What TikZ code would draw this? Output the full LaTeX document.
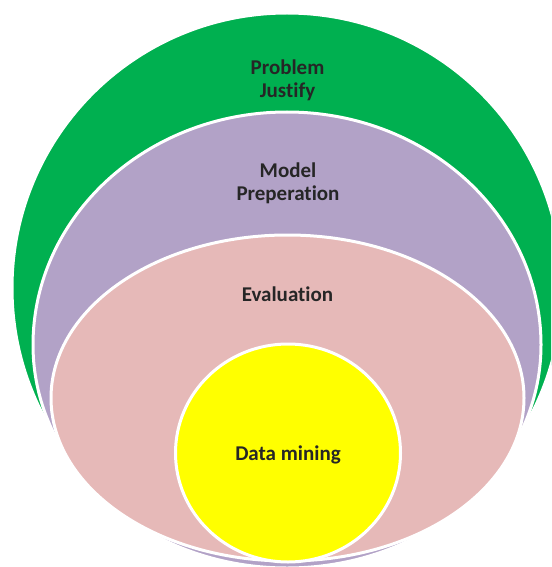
\documentclass[tikz,border=0pt]{standalone}
\usepackage{fontspec}
\setmainfont{Carlito}[Ligatures=NoCommon]
\usetikzlibrary{shapes.geometric}
\definecolor{layergreen}{HTML}{00B050}
\definecolor{layerpurple}{HTML}{B2A2C7}
\definecolor{layerpink}{HTML}{E6B9B8}
\definecolor{layeryellow}{HTML}{FFFF00}
\definecolor{labeltext}{HTML}{262626}
\tikzset{gr/.style={ellipse, inner sep=0pt, draw=white, line width=3pt, fill=layergreen},
        pu/.style={draw=white, line width=3pt, fill=layerpurple},
        pk/.style={ellipse, inner sep=0pt, draw=white, line width=3pt, fill=layerpink},
        yl/.style={ellipse, inner sep=0pt, draw=white, line width=3pt, fill=layeryellow},
        lb/.style={font=\bfseries\fontsize{21}{23}\selectfont, text=labeltext, align=center, anchor=base, inner sep=0pt}}

\begin{document}
\begin{tikzpicture}[x=1pt,y=-1pt]
    \useasboundingbox (0,0) rectangle (551,567);
    \clip (0,0) rectangle (551,567);

    % layers, back to front
    \node (problem) at (287,288) [gr, minimum width=550pt, minimum height=550pt] {};
    % the model layer is flatter below than above
    \draw[pu] (33,345) arc[start angle=180, end angle=360, x radius=254, y radius=233]
        arc[start angle=0, end angle=180, x radius=254, y radius=223] -- cycle;
    \node (evaluation) at (287.5,398) [pk, minimum width=473pt, minimum height=326pt] {};
    \node (mining) at (288,453) [yl, minimum width=225pt, minimum height=218pt] {};

    % labels
    \node (problemlabel) at (287.5,97.5) [lb] {Problem\\Justify};
    \node (modellabel) at (288,200) [lb] {Model\\Preperation};
    \node (evaluationlabel) at (287.5,301.7) [lb] {Evaluation};
    \node (mininglabel) at (288,460.7) [lb] {Data mining};
\end{tikzpicture}
\end{document}
